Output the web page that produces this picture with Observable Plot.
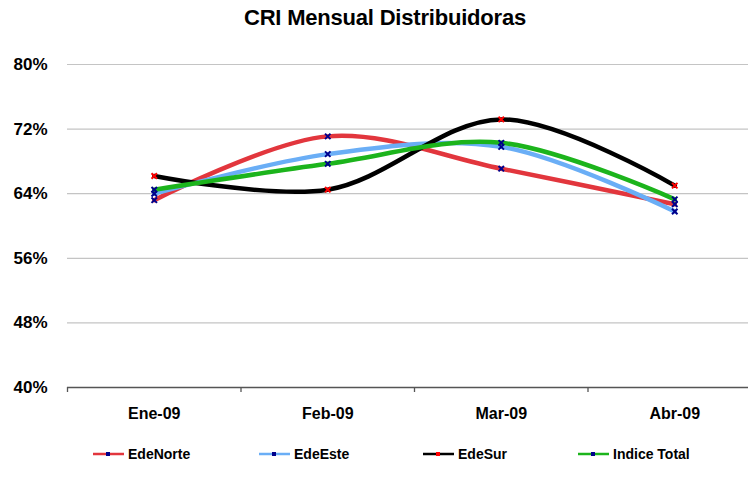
<!DOCTYPE html>
<html>
<head>
<meta charset="utf-8">
<script src="https://cdn.jsdelivr.net/npm/d3@7"></script>
<script src="https://cdn.jsdelivr.net/npm/@observablehq/plot@0.6"></script>
<style>
  html, body { margin: 0; padding: 0; background: #fff; overflow: hidden; }
  #wrap { position: relative; width: 748px; height: 491px; font-family: "Liberation Sans", Arial, sans-serif; }
  #wrap > svg { position: absolute; left: 0; top: 0; overflow: hidden; }
  #title { position: absolute; left: 0; width: 770px; top: 5px; text-align: center; font-weight: bold; font-size: 22px; color: #000; letter-spacing: -0.2px; }
  .leg { position: absolute; top: 446px; display: flex; align-items: center; font-weight: bold; font-size: 14px; color: #000; }
  .leg svg { margin-right: 4px; }
</style>
</head>
<body>
<div id="wrap"><div id="title">CRI Mensual Distribuidoras</div></div>
<script>
const months = ["Ene-09", "Feb-09", "Mar-09", "Abr-09"];
const seriesNames = ["EdeNorte", "EdeEste", "EdeSur", "Indice Total"];
const edeNorte = [63.2, 71.1, 67.1, 62.7];
const edeEste = [64.0, 68.9, 69.8, 61.8];
const edeSur = [66.2, 64.5, 73.2, 65.0];
const indiceTotal = [64.5, 67.7, 70.3, 63.3];
const yTicks = [40, 48, 56, 64, 72, 80];
const lineColors = ["#e2363d", "#6aaef6", "#000000", "#1cb41c"];
const markerColors = ["#00008b", "#00008b", "#ff0000", "#00008b"];
const legendLeft = [93, 259, 423, 578];

const seriesValues = [edeNorte, edeEste, edeSur, indiceTotal];
const rows = [];
seriesNames.forEach((s, si) => months.forEach((m, mi) => rows.push({series: s, si, month: m, mi, value: seriesValues[si][mi]})));

const marks = [
  Plot.gridY(yTicks.filter(d => d > 40), {stroke: "#c4c4c4", strokeOpacity: 1, strokeWidth: 1.2}),
  Plot.axisY(yTicks, {label: null, tickSize: 0, tickPadding: 20, tickFormat: d => d + "%", fontWeight: "bold", fontSize: 17}),
  Plot.axisX(d3.range(months.length + 1), {label: null, tickSize: 5, tickFormat: () => "", stroke: "#555", strokeWidth: 1.3}),
  Plot.axisX(d3.range(months.length).map(i => i + 0.5), {label: null, tickSize: 0, tickPadding: 20, tickFormat: i => months[Math.floor(i)], fontWeight: "bold", fontSize: 16}),
  Plot.ruleY([40], {stroke: "#555", strokeWidth: 1.5})
];
seriesNames.forEach((s, si) => {
  const d = rows.filter(r => r.si === si);
  marks.push(Plot.line(d, {x: r => r.mi + 0.5, y: "value", stroke: lineColors[si], strokeWidth: 4.5, curve: "catmull-rom"}));
});
seriesNames.forEach((s, si) => {
  const d = rows.filter(r => r.si === si);
  marks.push(Plot.dot(d, {x: r => r.mi + 0.5, y: "value", symbol: "times", r: 2.6, stroke: markerColors[si], strokeWidth: 2}));
});

const chart = Plot.plot({
  width: 748,
  height: 491,
  marginTop: 64,
  marginBottom: 104,
  marginLeft: 67,
  marginRight: 0,
  style: {fontFamily: "'Liberation Sans', Arial, sans-serif", color: "#000", background: "transparent"},
  x: {type: "linear", domain: [0, months.length], range: [67, 761], axis: null},
  y: {domain: [40, 80], axis: null},
  marks
});
const wrap = document.getElementById("wrap");
wrap.insertBefore(chart, wrap.firstChild);

seriesNames.forEach((s, si) => {
  const item = document.createElement("div");
  item.className = "leg";
  item.style.left = legendLeft[si] + "px";
  item.innerHTML = `<svg width="31" height="10"><line x1="0" x2="31" y1="5" y2="5" stroke="${lineColors[si]}" stroke-width="2.5"/><rect x="13" y="3" width="4" height="4" fill="${markerColors[si]}"/></svg><span>${s}</span>`;
  wrap.appendChild(item);
});
</script>
</body>
</html>
